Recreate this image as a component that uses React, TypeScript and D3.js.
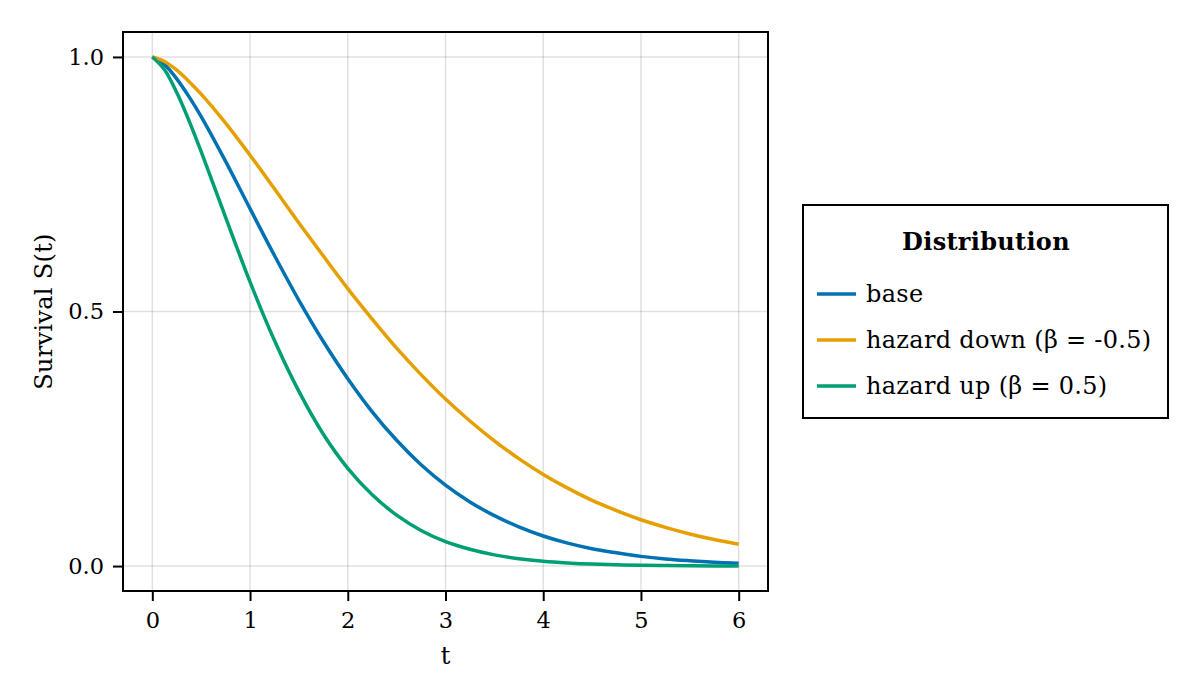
import { useEffect, useRef } from 'react'
import * as d3 from 'd3'

// time grid (t) and survival values
const times = [0, 0.125, 0.25, 0.375, 0.5, 0.75, 1, 1.25, 1.5, 1.75, 2, 2.25, 2.5, 2.75, 3, 3.25, 3.5, 3.75, 4, 4.25, 4.5, 4.75, 5, 5.25, 5.5, 5.75, 6]

const base = [1, 0.985, 0.957, 0.922, 0.883, 0.795, 0.702, 0.61, 0.522, 0.441, 0.368, 0.303, 0.247, 0.199, 0.159, 0.126, 0.099, 0.077, 0.059, 0.045, 0.034, 0.026, 0.019, 0.014, 0.0105, 0.0076, 0.0055]
const hazardDown = [1, 0.991, 0.974, 0.952, 0.927, 0.87, 0.807, 0.741, 0.674, 0.609, 0.545, 0.485, 0.428, 0.376, 0.328, 0.285, 0.246, 0.211, 0.18, 0.153, 0.129, 0.109, 0.091, 0.076, 0.063, 0.052, 0.043]
const hazardUp = [1, 0.975, 0.93, 0.875, 0.814, 0.685, 0.558, 0.443, 0.343, 0.259, 0.192, 0.14, 0.1, 0.07, 0.048, 0.033, 0.022, 0.0145, 0.0094, 0.0061, 0.0038, 0.0024, 0.0015, 0.0009, 0.0005, 0.0003, 0.0002]

const seriesNames = ['base', 'hazard down (β = -0.5)', 'hazard up (β = 0.5)']
const seriesColors = ['#0072B2', '#E69F00', '#009E73']
const xTicks = [0, 1, 2, 3, 4, 5, 6]
const yTicks = [0, 0.5, 1]

const FONT = "'DejaVu Serif', 'Liberation Serif', serif"
const TICK_FS = 22.5
const LABEL_FS = 24

export default function App() {
  const svgRef = useRef<SVGSVGElement | null>(null)
  const width = 1200
  const height = 700

  useEffect(() => {
    if (!svgRef.current) return
    const svg = d3.select(svgRef.current)
    svg.selectAll('*').remove()

    const frame = { left: 123, top: 32, right: 768, bottom: 591 }

    const x = d3.scaleLinear().domain([-0.3, 6.3]).range([frame.left, frame.right])
    const y = d3.scaleLinear().domain([-0.049, 1.049]).range([frame.bottom, frame.top])

    svg.append('rect').attr('width', width).attr('height', height).attr('fill', '#fff')

    // grid
    const grid = svg.append('g')
    grid.selectAll('line.vx')
      .data(xTicks)
      .join('line')
      .attr('x1', d => x(d)).attr('x2', d => x(d))
      .attr('y1', frame.top).attr('y2', frame.bottom)
      .attr('stroke', 'rgba(0,0,0,0.12)').attr('stroke-width', 1.5)
    grid.selectAll('line.hy')
      .data(yTicks)
      .join('line')
      .attr('y1', d => y(d)).attr('y2', d => y(d))
      .attr('x1', frame.left).attr('x2', frame.right)
      .attr('stroke', 'rgba(0,0,0,0.12)').attr('stroke-width', 1.5)

    // curves
    const all = [base, hazardDown, hazardUp]
    const line = d3.line<number>()
      .x((_, i) => x(times[i]))
      .y(d => y(d))
      .curve(d3.curveCatmullRom.alpha(0.5))
    svg.append('g')
      .selectAll('path')
      .data(all)
      .join('path')
      .attr('d', d => line(d))
      .attr('fill', 'none')
      .attr('stroke', (_, i) => seriesColors[i])
      .attr('stroke-width', 3.5)

    // frame
    svg.append('rect')
      .attr('x', frame.left).attr('y', frame.top)
      .attr('width', frame.right - frame.left).attr('height', frame.bottom - frame.top)
      .attr('fill', 'none').attr('stroke', '#000').attr('stroke-width', 2)

    // x axis
    const xAxis = svg.append('g')
      .attr('transform', `translate(0,${frame.bottom})`)
      .call(d3.axisBottom(x).tickValues(xTicks).tickFormat(d3.format('d')).tickSize(10).tickPadding(11))
    xAxis.select('.domain').remove()
    xAxis.selectAll('line').attr('stroke', '#000').attr('stroke-width', 2)
    xAxis.selectAll('text').attr('font-family', FONT).attr('font-size', TICK_FS).attr('fill', '#000')

    // y axis
    const yAxis = svg.append('g')
      .attr('transform', `translate(${frame.left},0)`)
      .call(d3.axisLeft(y).tickValues(yTicks).tickFormat(d3.format('.1f')).tickSize(10).tickPadding(9))
    yAxis.select('.domain').remove()
    yAxis.selectAll('line').attr('stroke', '#000').attr('stroke-width', 2)
    yAxis.selectAll('text').attr('font-family', FONT).attr('font-size', TICK_FS).attr('fill', '#000')

    // axis labels
    svg.append('text')
      .attr('x', x(3)).attr('y', 664)
      .attr('text-anchor', 'middle')
      .attr('font-family', FONT).attr('font-size', LABEL_FS)
      .text('t')
    svg.append('text')
      .attr('transform', `translate(52,${(frame.top + frame.bottom) / 2}) rotate(-90)`)
      .attr('text-anchor', 'middle')
      .attr('font-family', FONT).attr('font-size', LABEL_FS)
      .attr('letter-spacing', 0.3)
      .text('Survival S(t)')

    // legend
    const lg = svg.append('g')
    lg.append('rect')
      .attr('x', 803).attr('y', 205).attr('width', 365).attr('height', 213)
      .attr('fill', '#fff').attr('stroke', '#000').attr('stroke-width', 2)
    lg.append('text')
      .attr('x', 986).attr('y', 250)
      .attr('text-anchor', 'middle')
      .attr('font-family', FONT).attr('font-size', LABEL_FS).attr('font-weight', 'bold')
      .attr('letter-spacing', 0.3)
      .text('Distribution')
    const items = lg.selectAll('g.item')
      .data(seriesNames)
      .join('g')
      .attr('transform', (_, i) => `translate(0,${294 + i * 46})`)
    items.append('line')
      .attr('x1', 817).attr('x2', 856)
      .attr('stroke', (_, i) => seriesColors[i]).attr('stroke-width', 3.5)
    items.append('text')
      .attr('x', 866).attr('y', 8)
      .attr('font-family', FONT).attr('font-size', LABEL_FS)
      .attr('letter-spacing', 0.3)
      .text(d => d)
  }, [])

  return (
    <svg
      ref={svgRef}
      width={width}
      height={height}
      style={{ position: 'absolute', left: 0, top: 0, display: 'block' }}
    />
  )
}
